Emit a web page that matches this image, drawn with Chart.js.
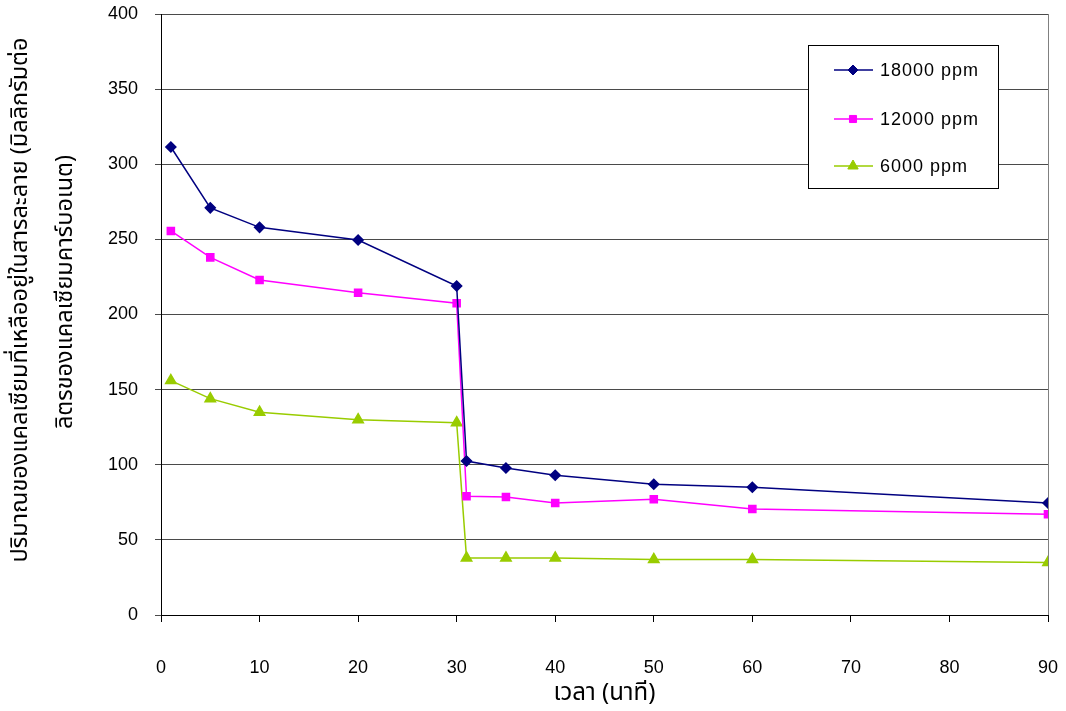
<!DOCTYPE html>
<html>
<head>
<meta charset="utf-8">
<script src="https://cdn.jsdelivr.net/npm/chart.js@4"></script>
<style>
  body { margin: 0; background: #fff; }
  #wrap { width: 1066px; height: 711px; position: relative; }
</style>
</head>
<body>
<div id="wrap"><canvas id="chart"></canvas></div>
<script>
// ข้อมูลจากกราฟ: เวลา (นาที)
const times = [1, 5, 10, 20, 30, 31, 35, 40, 50, 60, 90];
const ppm18000 = [311.5, 271, 258, 249.6, 219, 102.5, 97.8, 93, 87, 85, 74.5];
const ppm12000 = [255.6, 238, 223, 214.5, 207.5, 79, 78.5, 74.5, 77, 70.5, 67];
const ppm6000 = [156, 144, 135, 130, 128, 38, 38, 38, 37, 37, 35];
const seriesNames = ['18000 ppm', '12000 ppm', '6000 ppm'];
const xTitle = 'เวลา (นาที)';
const yTitle = ['ปริมาณของแคลเซียมที่เหลืออยู่ในสารละลาย (มิลลิกรัมต่อ', 'ลิตรของแคลเซียมคาร์บอเนต)'];

const thaiFont = "'Noto Sans Thai', 'Noto Sans', 'DejaVu Sans', sans-serif";
const numFont = "'Liberation Sans', Arial, sans-serif";

function toPoints(vals) {
    return times.map((t, i) => ({ x: t, y: vals[i] }));
}

// กรอบขวาของพื้นที่กราฟ
const frameRight = {
    id: 'frameRight',
    afterDraw(chart) {
        const { ctx, chartArea: a } = chart;
        ctx.save();
        ctx.strokeStyle = '#808080';
        ctx.lineWidth = 1;
        ctx.beginPath();
        ctx.moveTo(a.right + 0.5, a.top);
        ctx.lineTo(a.right + 0.5, a.bottom);
        ctx.stroke();
        ctx.restore();
    }
};

// ชื่อแกน y สองบรรทัด (หมุน 90 องศา)
const yTitlePlugin = {
    id: 'yTitlePlugin',
    afterDraw(chart) {
        const ctx = chart.ctx;
        const cols = [22, 67];
        const mids = [300, 292];
        ctx.save();
        ctx.fillStyle = '#000';
        ctx.font = '23.5px ' + thaiFont;
        ctx.textAlign = 'center';
        ctx.textBaseline = 'middle';
        yTitle.forEach((line, i) => {
            ctx.save();
            ctx.translate(cols[i], mids[i]);
            ctx.rotate(-Math.PI / 2);
            ctx.fillText(line, 0, 0);
            ctx.restore();
        });
        ctx.restore();
    }
};

// legend แบบกล่องในพื้นที่กราฟ
const boxLegend = {
    id: 'boxLegend',
    afterDraw(chart) {
        const ctx = chart.ctx;
        const x0 = 808, y0 = 45, w = 190, h = 143;
        ctx.save();
        ctx.fillStyle = '#fff';
        ctx.fillRect(x0, y0, w, h);
        ctx.strokeStyle = '#000';
        ctx.lineWidth = 1;
        ctx.strokeRect(x0 + 0.5, y0 + 0.5, w, h);
        const rows = [70, 119, 166];
        chart.data.datasets.forEach((ds, i) => {
            const y = rows[i];
            ctx.strokeStyle = ds.borderColor;
            ctx.lineWidth = 1.5;
            ctx.beginPath();
            ctx.moveTo(834, y);
            ctx.lineTo(873, y);
            ctx.stroke();
            ctx.fillStyle = ds.borderColor;
            ctx.lineWidth = 1;
            Chart.helpers.drawPoint(ctx, {
                pointStyle: ds.pointStyle,
                radius: ds.pointRadius,
                borderWidth: 1
            }, 853, y);
            ctx.fillStyle = '#000';
            ctx.font = '18px ' + numFont;
            ctx.letterSpacing = '1px';
            ctx.textBaseline = 'middle';
            ctx.fillText(ds.label, 880, y + 1);
            ctx.letterSpacing = '0px';
        });
        ctx.restore();
    }
};

function makeDataset(label, vals, color, style, r) {
    return {
        label: label,
        data: toPoints(vals),
        borderColor: color,
        backgroundColor: color,
        pointBackgroundColor: color,
        pointBorderColor: color,
        borderWidth: 1.5,
        pointStyle: style,
        pointRadius: r,
        pointHoverRadius: r,
        tension: 0
    };
}

const ctx = document.getElementById('chart').getContext('2d');
new Chart(ctx, {
    type: 'line',
    data: {
        datasets: [
            makeDataset(seriesNames[0], ppm18000, '#000080', 'rectRot', 5),
            makeDataset(seriesNames[1], ppm12000, '#FF00FF', 'rect', 5),
            makeDataset(seriesNames[2], ppm6000, '#99CC00', 'triangle', 6)
        ]
    },
    options: {
        responsive: true,
        maintainAspectRatio: false,
        animation: false,
        layout: { padding: { left: 0, right: 18, top: 14, bottom: 0 } },
        plugins: { legend: { display: false }, tooltip: { enabled: false } },
        scales: {
            x: {
                type: 'linear',
                min: 0,
                max: 90,
                afterFit: s => { s.height = 96; s.paddingRight = 0; s.paddingLeft = 0; },
                border: { display: true, color: '#000', width: 1 },
                grid: { display: true, drawOnChartArea: false, tickLength: 7, color: '#000' },
                ticks: {
                    stepSize: 10,
                    padding: 35,
                    color: '#000',
                    font: { family: numFont, size: 18 }
                },
                title: {
                    display: true,
                    text: xTitle,
                    color: '#000',
                    font: { family: thaiFont, size: 24 },
                    padding: { top: 0, bottom: 1 }
                }
            },
            y: {
                min: 0,
                max: 400,
                afterFit: s => { s.width = 161; s.paddingTop = 0; s.paddingBottom = 0; },
                border: { display: true, color: '#000', width: 1 },
                grid: { color: '#4a4a4a', tickLength: 6 },
                ticks: {
                    stepSize: 50,
                    padding: 17,
                    color: '#000',
                    font: { family: numFont, size: 18 }
                },
                title: { display: false }
            }
        }
    },
    plugins: [frameRight, yTitlePlugin, boxLegend]
});
</script>
</body>
</html>
